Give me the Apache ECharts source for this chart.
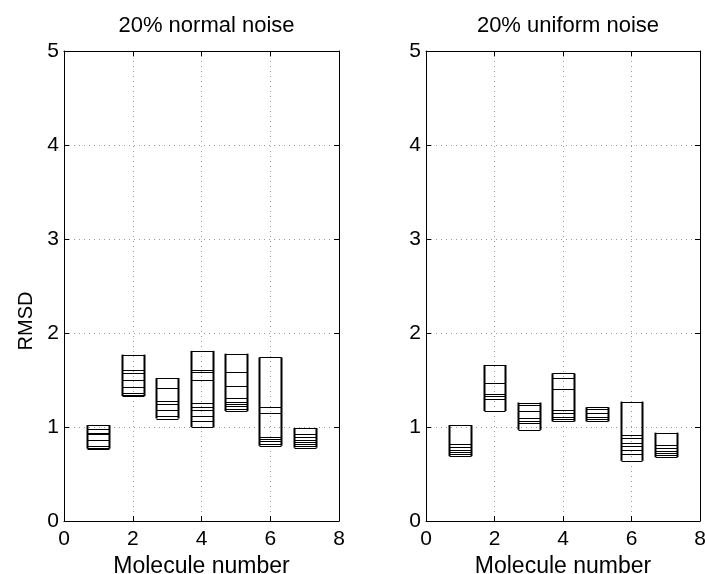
<!DOCTYPE html>
<html>
<head>
<meta charset="utf-8">
<script src="https://cdn.jsdelivr.net/npm/echarts@6/dist/echarts.min.js"></script>
<style>html,body{margin:0;padding:0;background:#fff}#c{width:705px;height:574px}</style>
</head>
<body>
<div id="c"></div>
<script>
// Data
const titles = ['20% normal noise', '20% uniform noise'];
const xLabel = 'Molecule number';
const yLabel = 'RMSD';
const molecules = [1, 2, 3, 4, 5, 6, 7];
const normalValues = [
  [1.02, 0.98, 0.94, 0.93, 0.86, 0.80, 0.78, 0.77],
  [1.77, 1.61, 1.57, 1.50, 1.43, 1.36, 1.34, 1.33],
  [1.52, 1.42, 1.28, 1.25, 1.18, 1.12, 1.09],
  [1.81, 1.61, 1.58, 1.50, 1.26, 1.21, 1.18, 1.12, 1.06, 1.00],
  [1.78, 1.59, 1.44, 1.31, 1.27, 1.24, 1.22, 1.19, 1.17],
  [1.74, 1.21, 1.15, 0.89, 0.87, 0.85, 0.82, 0.80],
  [0.99, 0.93, 0.89, 0.86, 0.84, 0.82, 0.80, 0.78]
];
const uniformValues = [
  [1.02, 0.82, 0.79, 0.76, 0.73, 0.71, 0.69],
  [1.66, 1.47, 1.35, 1.33, 1.30, 1.17],
  [1.26, 1.23, 1.17, 1.10, 1.06, 1.04, 0.97],
  [1.57, 1.52, 1.40, 1.18, 1.15, 1.11, 1.08, 1.06],
  [1.21, 1.19, 1.15, 1.11, 1.09, 1.06],
  [1.27, 0.92, 0.88, 0.83, 0.80, 0.76, 0.71, 0.64],
  [0.94, 0.81, 0.78, 0.75, 0.72, 0.70, 0.68]
];
const xTicks = [0, 2, 4, 6, 8];
const yTicks = [0, 1, 2, 3, 4, 5];

const FONT = '"Liberation Sans", Arial, sans-serif';
const BOX_HALF = 0.32;

function makeRender(sets) {
  return function (params, api) {
    const vals = sets[params.dataIndex];
    const x = api.value(0);
    const hw = api.size([BOX_HALF, 0])[0];
    const c = api.coord([x, 0])[0];
    const top = api.coord([x, Math.max(...vals)])[1];
    const bot = api.coord([x, Math.min(...vals)])[1];
    const children = [];
    const l = Math.round(c - hw) + 0.5, r = Math.round(c + hw) + 0.5;
    vals.forEach(v => {
      const y = Math.round(api.coord([x, v])[1]) + 0.5;
      children.push({type: 'line', shape: {x1: l, y1: y, x2: r, y2: y}, style: {stroke: '#000', lineWidth: 1}});
    });
    children.push({type: 'line', shape: {x1: l, y1: top, x2: l, y2: bot}, style: {stroke: '#000', lineWidth: 2}});
    children.push({type: 'line', shape: {x1: r, y1: top, x2: r, y2: bot}, style: {stroke: '#000', lineWidth: 2}});
    return {type: 'group', children};
  };
}

const grids = [
  {left: 64, top: 51, width: 275, height: 470, containLabel: false, outerBoundsMode: 'none'},
  {left: 426, top: 51, width: 274, height: 470, containLabel: false, outerBoundsMode: 'none'}
];

const xAxis = [], yAxis = [], series = [], title = [];
grids.forEach((g, gi) => {
  const common = {min: 0, gridIndex: gi, axisLine: {show: true, onZero: false, lineStyle: {color: '#000', width: 1}},
    axisTick: {show: true, inside: true, length: 5, lineStyle: {color: '#000'}}};
  xAxis.push(Object.assign({}, common, {type: 'value', max: 8, interval: 2, position: 'bottom',
    axisLabel: {color: '#000', fontSize: 21, fontFamily: FONT, margin: 8, formatter: v => xTicks.includes(v) ? String(v) : ''},
    splitLine: {show: true, lineStyle: {color: '#999', type: [1, 4], width: 1}},
    name: xLabel, nameLocation: 'middle', nameGap: 27, nameTextStyle: {color: '#000', fontSize: 23, fontFamily: FONT}}));
  xAxis.push(Object.assign({}, common, {type: 'value', max: 8, interval: 2, position: 'top', axisLabel: {show: false}, splitLine: {show: false}}));
  yAxis.push(Object.assign({}, common, {type: 'value', max: 5, interval: 1, position: 'left',
    axisLabel: {color: '#000', fontSize: 21, fontFamily: FONT, margin: 5, formatter: v => yTicks.includes(v) ? String(v) : ''},
    splitLine: {show: true, lineStyle: {color: '#999', type: [1, 4], width: 1}},
    name: gi === 0 ? yLabel : '', nameLocation: 'middle', nameGap: 28, nameRotate: 90,
    nameTextStyle: {color: '#000', fontSize: 20, fontFamily: FONT, padding: [0, 70, 0, 0]}}));
  yAxis.push(Object.assign({}, common, {type: 'value', max: 5, interval: 1, position: 'right', axisLabel: {show: false}, splitLine: {show: false}}));
  const sets = gi === 0 ? normalValues : uniformValues;
  series.push({
    type: 'custom', xAxisIndex: gi * 2, yAxisIndex: gi * 2,
    renderItem: makeRender(sets),
    data: molecules.map((m, i) => [m, Math.min(...sets[i]), Math.max(...sets[i])]),
    encode: {x: 0, y: [1, 2]}, silent: true, z: 5
  });
  title.push({text: titles[gi], left: g.left + g.width / 2, top: 10, textAlign: 'center',
    textStyle: {color: '#000', fontSize: 22, fontWeight: 'normal', fontFamily: FONT}});
});

const chart = echarts.init(document.getElementById('c'), null, {renderer: 'canvas'});
chart.setOption({
  backgroundColor: '#fff', animation: false,
  title, grid: grids, xAxis, yAxis, series
});
</script>
</body>
</html>
